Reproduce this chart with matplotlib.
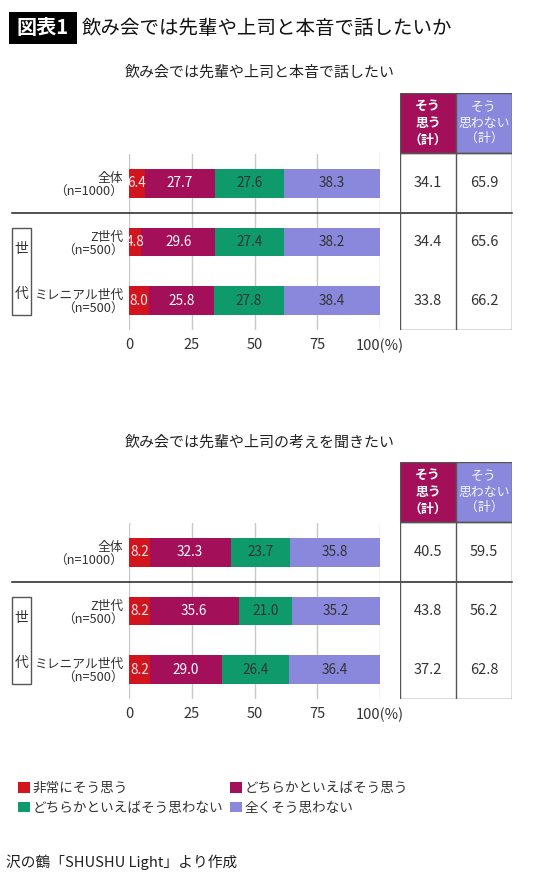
import matplotlib
matplotlib.use("Agg")
import matplotlib.pyplot as plt
from matplotlib.patches import Rectangle, Patch
from matplotlib.transforms import blended_transform_factory

plt.rcParams['font.family'] = ['Noto Sans CJK JP', 'DejaVu Sans']

# data
groups = ['全体\n（n=1000）', 'Z世代\n（n=500）', 'ミレニアル世代\n（n=500）']
answers = ['非常にそう思う', 'どちらかといえばそう思う', 'どちらかといえばそう思わない', '全くそう思わない']
colors = ['#d2141f', '#a30f59', '#0e9a6b', '#8a88dc']
label_colors = ['#fbe8ea', '#ffffff', '#333333', '#333333']

title1 = '飲み会では先輩や上司と本音で話したい'
vals1 = [[6.4, 27.7, 27.6, 38.3],
         [4.8, 29.6, 27.4, 38.2],
         [8.0, 25.8, 27.8, 38.4]]
yes1 = [34.1, 34.4, 33.8]
no1 = [65.9, 65.6, 66.2]

title2 = '飲み会では先輩や上司の考えを聞きたい'
vals2 = [[8.2, 32.3, 23.7, 35.8],
         [8.2, 35.6, 21.0, 35.2],
         [8.2, 29.0, 26.4, 36.4]]
yes2 = [40.5, 43.8, 37.2]
no2 = [59.5, 56.2, 62.8]

ticks = [0, 25, 50, 75, 100]
tick_labels = ['0', '25', '50', '75', '100(%)']

W, H = 540, 875
fig = plt.figure(figsize=(W / 100, H / 100), dpi=100)


def fx(px):
    return px / W


def fy(px):
    return 1 - px / H


def panel(top, title, vals, yes, no):
    # top = pixel y of table header top
    ax_top = top + 61
    ax_bot = top + 237
    ax = fig.add_axes([fx(129), fy(ax_bot), fx(380) - fx(129), fy(ax_top) - fy(ax_bot)])
    ypos = list(range(len(groups)))
    left = [0] * len(groups)
    for j in range(len(answers)):
        seg = [row[j] for row in vals]
        bars = ax.barh(ypos, seg, left=left, height=0.49, color=colors[j], zorder=2)
        for b, v in zip(bars, seg):
            ax.text(b.get_x() + b.get_width() / 2, b.get_y() + b.get_height() / 2,
                    f'{v:.1f}', ha='center', va='center', fontsize=9.8,
                    color=label_colors[j], zorder=3)
        left = [l + s for l, s in zip(left, seg)]
    ax.set_xlim(0, 100)
    ax.set_ylim(2.5, -0.5)
    ax.set_xticks(ticks)
    ax.set_xticklabels(tick_labels, fontsize=10.5, color='#333333')
    ax.set_yticks(ypos)
    ax.set_yticklabels(groups, fontsize=9.2, color='#333333', linespacing=1.1)
    for lbl in ax.get_yticklabels():
        lbl.set_multialignment('right')
    ax.tick_params(length=0, pad=4)
    ax.tick_params(axis='x', pad=6)
    ax.xaxis.grid(True, color='#c8c8c8', linewidth=1, zorder=0)
    for s in ax.spines.values():
        s.set_visible(False)

    # separator line
    tr = blended_transform_factory(fig.transFigure, ax.transData)
    ax.plot([fx(12), fx(512)], [0.5, 0.5], transform=tr, color='#222222',
            linewidth=1.1, clip_on=False, zorder=4)

    # 世代 box
    ax.add_patch(Rectangle((fx(12), 0.755), fx(31) - fx(12), 1.49, transform=tr,
                           fill=False, edgecolor='#555555', linewidth=1, clip_on=False))
    ax.text(fx(21.5), 1.5 - 0.38, '世', transform=tr, ha='center', va='center', fontsize=10, color='#333333')
    ax.text(fx(21.5), 1.5 + 0.38, '代', transform=tr, ha='center', va='center', fontsize=10, color='#333333')

    # subtitle
    fig.text(fx(260), fy(top - 20), title, ha='center', va='center', fontsize=10.8, color='#222222')

    # table
    tx = fig.add_axes([fx(400), fy(ax_bot), fx(512) - fx(400), fy(top) - fy(ax_bot)])
    hdr = 60 / 58.7
    tx.set_xlim(0, 2)
    tx.set_ylim(2.5, -0.5 - hdr)
    tx.axis('off')
    tx.add_patch(Rectangle((0, -0.5 - hdr), 1, hdr, facecolor=colors[1], edgecolor='#555555', linewidth=1))
    tx.add_patch(Rectangle((1, -0.5 - hdr), 1, hdr, facecolor=colors[3], edgecolor='#555555', linewidth=1))
    tx.text(0.5, -0.5 - hdr / 2, 'そう\n思う\n（計）', ha='center', va='center', fontsize=9.3,
            color='white', fontweight='bold', linespacing=1.25)
    tx.text(1.5, -0.5 - hdr / 2, 'そう\n思わない\n（計）', ha='center', va='center', fontsize=9.3,
            color='#f4f4ff', linespacing=1.25)
    tx.add_patch(Rectangle((0, -0.5), 2, 3, fill=False, edgecolor='#555555', linewidth=1))
    tx.plot([1, 1], [-0.5, 2.5], color='#555555', linewidth=1)
    for i in ypos:
        tx.text(0.5, i, f'{yes[i]:.1f}', ha='center', va='center', fontsize=10.5, color='#333333')
        tx.text(1.5, i, f'{no[i]:.1f}', ha='center', va='center', fontsize=10.5, color='#333333')


panel(93, title1, vals1, yes1, no1)
panel(462, title2, vals2, yes2, no2)

# main title
fig.patches.append(Rectangle((fx(9), fy(44)), fx(77) - fx(9), fy(12) - fy(44),
                             transform=fig.transFigure, facecolor='black', edgecolor='none'))
fig.text(fx(43), fy(28), '図表1', ha='center', va='center', fontsize=14.5, color='white', fontweight='bold')
fig.text(fx(82), fy(28), '飲み会では先輩や上司と本音で話したいか', ha='left', va='center',
         fontsize=14, color='#111111')

# legend
order = [0, 2, 1, 3]
handles = [Patch(facecolor=colors[k], edgecolor='none', label=answers[k]) for k in order]
fig.legend(handles=handles, loc='upper left', bbox_to_anchor=(fx(6), fy(769)), ncol=2,
           frameon=False, fontsize=9.8, handlelength=0.85, handleheight=0.85,
           handletextpad=0.2, columnspacing=0.5, labelspacing=0.4,
           labelcolor='#333333')

# source
fig.text(fx(6), fy(862), '沢の鶴「SHUSHU Light」より作成', ha='left', va='center', fontsize=10.6, color='#222222')

fig.savefig('out.png', dpi=100, facecolor='white')
